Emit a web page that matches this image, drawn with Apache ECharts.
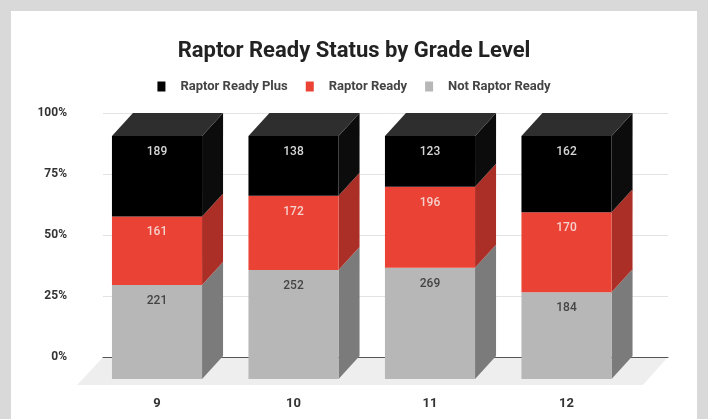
<!DOCTYPE html>
<html>
<head>
<meta charset="utf-8">
<title>Raptor Ready Status by Grade Level</title>
<script src="https://cdn.jsdelivr.net/npm/echarts@6/dist/echarts.min.js"></script>
<style>
  html, body { margin: 0; padding: 0; background: #d9d9d9; }
  #panel { position: absolute; left: 11px; top: 11px; width: 686px; height: 408px; background: #fff; }
  #chart { position: absolute; left: 0; top: 0; width: 708px; height: 419px; }
</style>
</head>
<body>
<div id="panel"></div>
<div id="chart"></div>
<script>
const grades = ['9', '10', '11', '12']
const notReady = [221, 252, 269, 184]
const ready = [161, 172, 196, 170]
const readyPlus = [189, 138, 123, 162]
const yTicks = [0, 25, 50, 75, 100]

// depth of the fake 3d bars (px)
const DX = 21
const DY = 23

const totals = grades.map((g, i) => notReady[i] + ready[i] + readyPlus[i])

function stackData(counts, below) {
  return counts.map((c, i) => {
    const from = below.reduce((s, arr) => s + arr[i], 0) / totals[i] * 100
    const to = from + c / totals[i] * 100
    return [i, from, to, c]
  })
}

function makeSeries(name, colors, counts, below, isTop) {
  return {
    name: name,
    type: 'custom',
    xAxisIndex: 1,
    yAxisIndex: 1,
    z: 3,
    itemStyle: { color: colors.front },
    encode: { x: 0, y: [1, 2] },
    data: stackData(counts, below),
    renderItem(params, api) {
      const i = api.value(0)
      const bottom = api.coord([i, api.value(1)])
      const top = api.coord([i, api.value(2)])
      const w = api.size([1, 0])[0] * 0.66
      const x0 = bottom[0] - w / 2
      const x1 = bottom[0] + w / 2
      const y0 = bottom[1]
      const y1 = top[1]
      const children = [
        {
          type: 'polygon',
          shape: { points: [[x1, y1], [x1 + DX, y1 - DY], [x1 + DX, y0 - DY], [x1, y0]] },
          style: { fill: colors.side }
        },
        {
          type: 'rect',
          shape: { x: x0, y: y1, width: w, height: y0 - y1 },
          style: { fill: colors.front }
        }
      ]
      if (isTop) {
        children.push({
          type: 'polygon',
          shape: { points: [[x0, y1], [x1, y1], [x1 + DX, y1 - DY], [x0 + DX, y1 - DY]] },
          style: { fill: colors.top }
        })
      }
      children.push({
        type: 'text',
        x: bottom[0],
        y: y1 + 16,
        style: {
          text: String(api.value(3)),
          fill: colors.label,
          font: '500 12px Roboto',
          align: 'center',
          verticalAlign: 'middle'
        }
      })
      return { type: 'group', children: children }
    }
  }
}

const floorSeries = {
  type: 'custom',
  xAxisIndex: 1,
  yAxisIndex: 1,
  z: 0,
  silent: true,
  data: [[0, 0]],
  renderItem(params, api) {
    const band = api.size([1, 0])[0]
    const first = api.coord([0, 0])
    const last = api.coord([grades.length - 1, 0])
    const yf = first[1] + 6
    const yb = first[1] - DY + 1
    const xl = first[0] - band * 0.585
    const xr = last[0] + band * 0.56
    return {
      type: 'polygon',
      shape: { points: [[xl, yf], [xr, yf], [xr + 25, yb], [xl + 26, yb]] },
      style: { fill: '#eeeeee' }
    }
  }
}

const chart = echarts.init(document.getElementById('chart'))

chart.setOption({
  backgroundColor: 'transparent',
  animation: false,
  textStyle: { fontFamily: 'Roboto' },
  title: {
    text: 'Raptor Ready Status by Grade Level',
    left: 'center',
    top: 35,
    textStyle: { fontSize: 22, fontWeight: 'bold', color: '#222', fontFamily: 'Roboto' }
  },
  legend: {
    top: 75,
    left: 'center',
    icon: 'rect',
    itemWidth: 8,
    itemHeight: 10,
    itemGap: 18,
    data: ['Raptor Ready Plus', 'Raptor Ready', 'Not Raptor Ready'],
    textStyle: { fontSize: 13, fontWeight: 'bold', color: '#444', padding: [0, 0, 0, 10] }
  },
  grid: [
    // back plane: gridlines and y labels
    { left: 103, right: 40, top: 113, bottom: 62 },
    // front plane: bar faces and category labels
    { left: 88.75, right: 73.25, top: 136, bottom: 40 }
  ],
  xAxis: [
    {
      gridIndex: 0,
      type: 'value',
      z: 1,
      axisLine: { show: true, lineStyle: { color: '#555', width: 1 } },
      axisTick: { show: false },
      axisLabel: { show: false },
      splitLine: { show: false }
    },
    {
      gridIndex: 1,
      type: 'category',
      data: grades,
      axisLine: { show: false },
      axisTick: { show: false },
      axisLabel: { margin: 18, fontSize: 13, fontWeight: 'bold', color: '#333' }
    }
  ],
  yAxis: [
    {
      gridIndex: 0,
      type: 'value',
      z: 1,
      min: yTicks[0],
      max: yTicks[yTicks.length - 1],
      interval: yTicks[1] - yTicks[0],
      axisLine: { show: false },
      axisTick: { show: false },
      axisLabel: { margin: 36, fontSize: 12, fontWeight: 'bold', color: '#333', formatter: '{value}%' },
      splitLine: { lineStyle: { color: '#e3e3e3' } }
    },
    {
      gridIndex: 1,
      type: 'value',
      min: yTicks[0],
      max: yTicks[yTicks.length - 1],
      show: false
    }
  ],
  series: [
    floorSeries,
    makeSeries('Not Raptor Ready',
      { front: '#b7b7b7', side: '#7b7b7b', label: '#444' },
      notReady, [], false),
    makeSeries('Raptor Ready',
      { front: '#ea4335', side: '#ac2f27', label: '#f6d0cc' },
      ready, [notReady], false),
    makeSeries('Raptor Ready Plus',
      { front: '#000000', side: '#0c0c0c', top: '#2e2e2e', label: '#d6d6d6' },
      readyPlus, [notReady, ready], true)
  ]
})
</script>
</body>
</html>
